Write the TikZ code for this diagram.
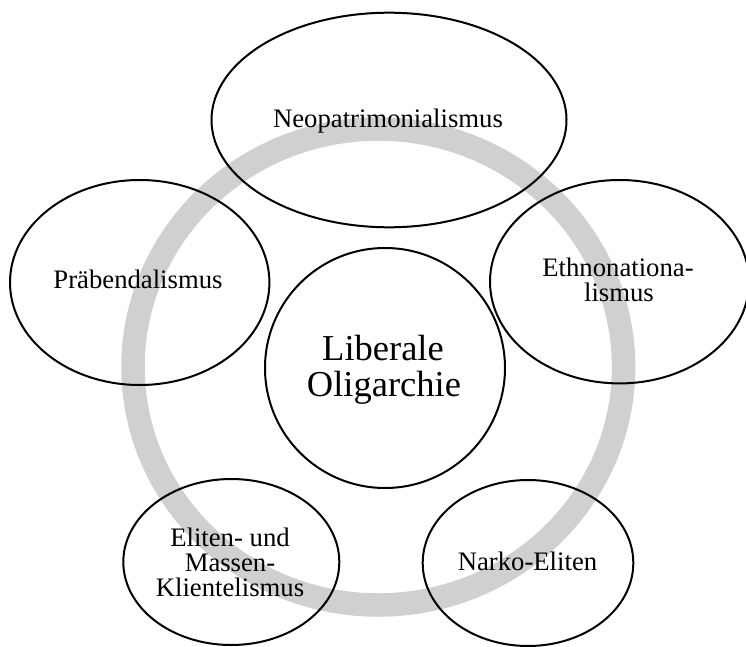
\documentclass[tikz,border=0pt]{standalone}
\usepackage{fontspec}
\setmainfont{Liberation Serif}
\usetikzlibrary{shapes.geometric}
\definecolor{ringgray}{RGB}{208,208,208}
\tikzset{
  ell/.style={ellipse, draw=black, line width=2pt, inner sep=0pt, outer sep=0pt},
  lbl/.style={anchor=base, inner sep=0pt, font=\fontsize{26.7pt}{30pt}\selectfont},
  biglbl/.style={anchor=base, inner sep=0pt, font=\fontsize{36.5pt}{40pt}\selectfont},
  ringline/.style={draw=ringgray, line width=23.5pt}
}
\begin{document}
\begin{tikzpicture}[x=1pt,y=-1pt]
\useasboundingbox (0,0) rectangle (746,647);
% ring
\draw[ringline] (378.3,367) ellipse [x radius=245.3pt, y radius=238pt];
% ellipses
\node[ell, minimum width=355pt, minimum height=214.6pt] (top) at (389,120) {};
\node[ell, minimum width=259.4pt, minimum height=205pt] (left) at (139.7,282.5) {};
\node[ell, minimum width=259pt, minimum height=203.4pt] (right) at (619.5,281.7) {};
\node[ell, circle, minimum size=240pt] (center) at (385,368) {};
\node[ell, minimum width=216pt, minimum height=166pt] (bl) at (231.3,562) {};
\node[ell, minimum width=210.6pt, minimum height=166pt] (br) at (528,563) {};
% labels
\node[lbl] (tTop) at (388,127.7) {Neopatrimonialismus};
\node[lbl] (tLeft) at (138,288.3) {Präbendalismus};
\node[lbl] (tRight1) at (618,276) {Ethnonationa-};
\node[lbl] (tRight2) at (619,301.7) {lismus};
\node[biglbl] (tC1) at (383,360) {Liberale};
\node[biglbl] (tC2) at (384,396) {Oligarchie};
\node[lbl] (tBL1) at (230,546.5) {Eliten- und};
\node[lbl] (tBL2) at (230,571) {Massen-};
\node[lbl] (tBL3) at (230,596) {Klientelismus};
\node[lbl] (tBR) at (527.5,570) {Narko-Eliten};
\end{tikzpicture}
\end{document}
